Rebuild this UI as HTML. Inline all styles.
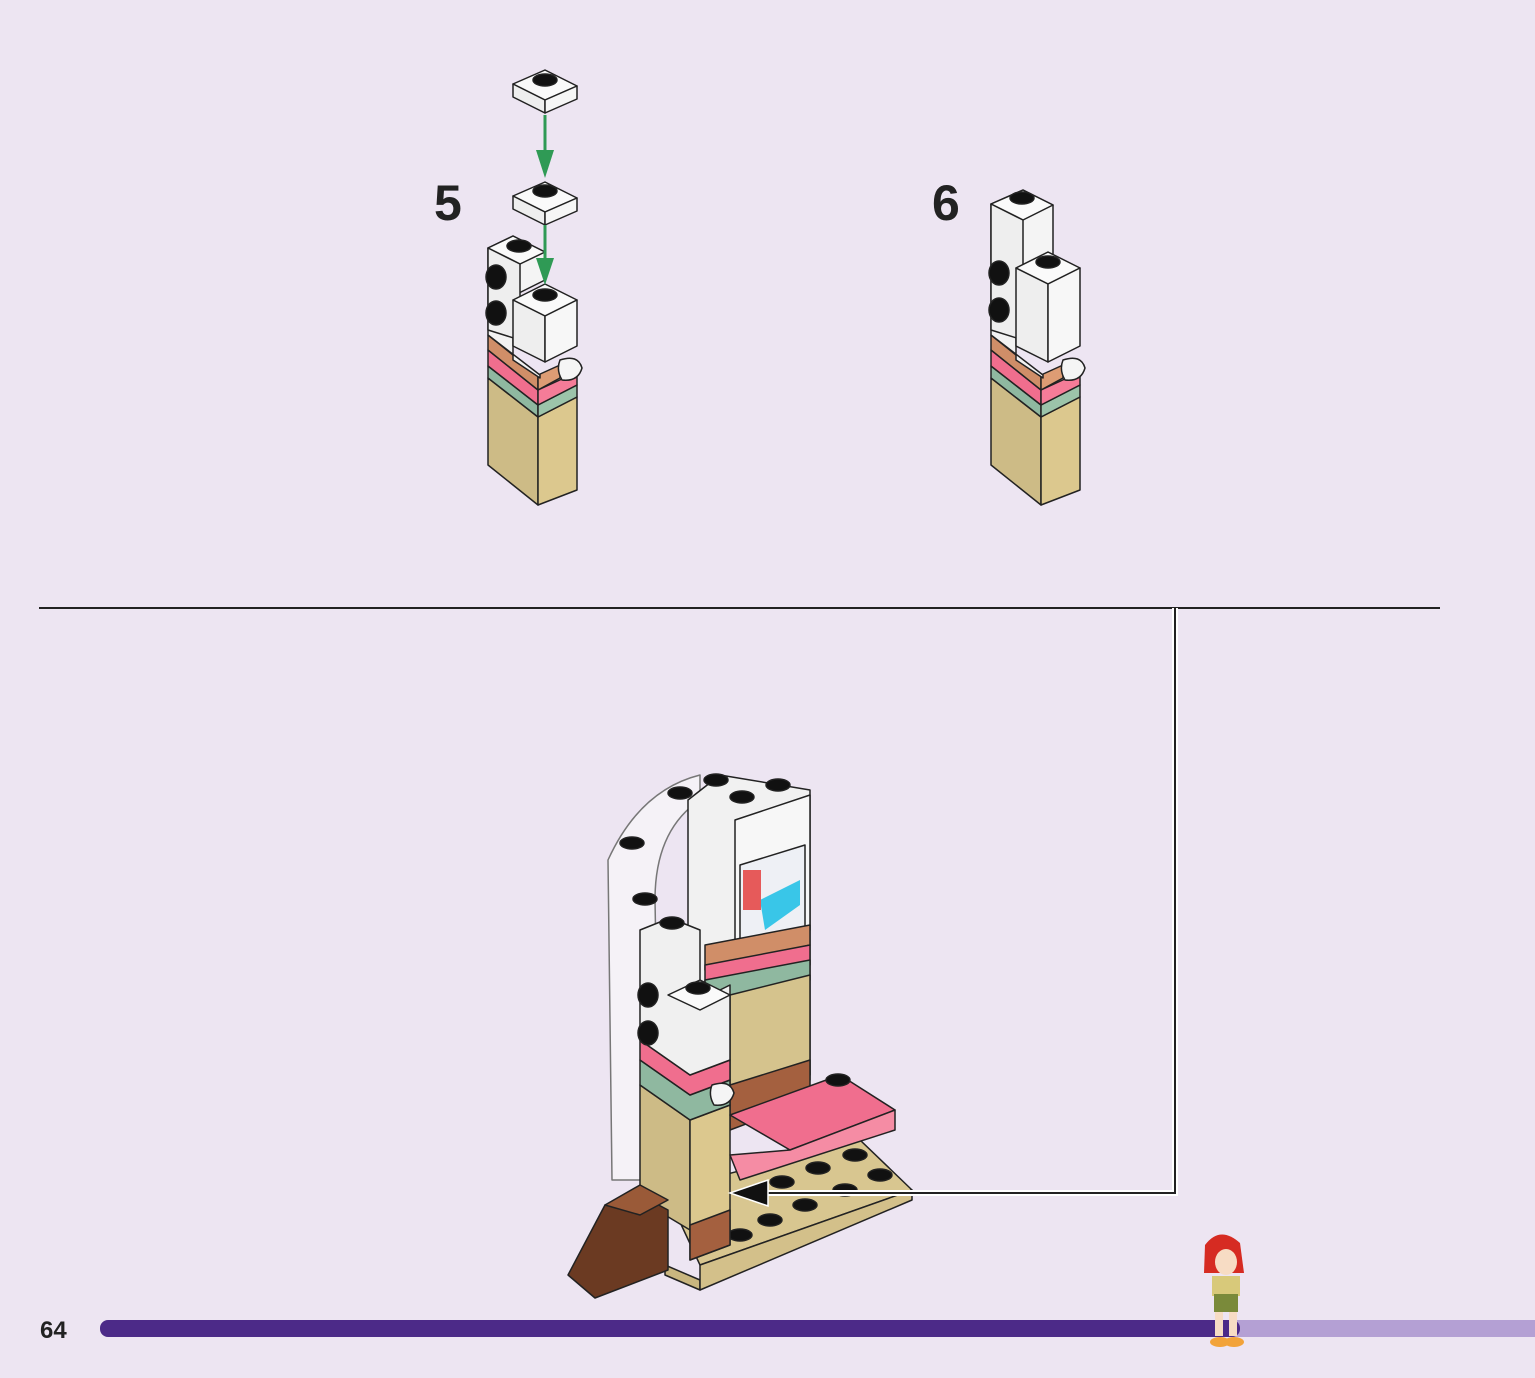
<!DOCTYPE html>
<html><head><style>
html,body{margin:0;padding:0;background:#ede5f2;}
svg{display:block}
</style></head><body>
<svg width="1535" height="1378" viewBox="0 0 1535 1378" xmlns="http://www.w3.org/2000/svg" font-family="Liberation Sans, sans-serif">
<rect width="1535" height="1378" fill="#ede5f2"/>
<defs>
<g id="pillar" stroke="#222" stroke-width="1.5" stroke-linejoin="round">
  <polygon points="488,378 538,417 538,505 488,465" fill="#cdbb86"/>
  <polygon points="538,417 577,397 577,490 538,505" fill="#dcc88e"/>
  <polygon points="488,366 538,405 538,417 488,378" fill="#8fb8a0"/>
  <polygon points="538,405 577,385 577,397 538,417" fill="#9cc4aa"/>
  <polygon points="488,350 538,390 538,405 488,366" fill="#f06e8e"/>
  <polygon points="538,390 577,372 577,385 538,405" fill="#f57c98"/>
  <polygon points="488,335 538,375 538,390 488,350" fill="#d08e68"/>
  <polygon points="538,375 560,365 560,378 538,390" fill="#dd9c74"/>
  <polygon points="488,270 513,290 513,360 540,378 540,375 488,335" fill="#f2f2f2"/>
</g>
</defs>

<g stroke="#222" stroke-width="1.5" stroke-linejoin="round">
  <use href="#pillar"/>
  <polygon points="488,248 513,236 545,252 545,280 513,296 488,280" fill="#f4f4f4"/>
  <polygon points="488,248 513,236 545,252 520,264" fill="#fafafa"/>
  <polygon points="488,248 520,264 520,340 488,330" fill="#eeeeee"/>
  <ellipse cx="519" cy="246" rx="12" ry="6" fill="#111"/>
  <ellipse cx="496" cy="277" rx="10" ry="12" fill="#111"/>
  <ellipse cx="496" cy="313" rx="10" ry="12" fill="#111"/>
  <polygon points="513,300 545,284 577,300 545,316" fill="#fafafa"/>
  <polygon points="513,300 545,316 545,362 513,346" fill="#eeeeee"/>
  <polygon points="545,316 577,300 577,346 545,362" fill="#f7f7f7"/>
  <ellipse cx="545" cy="295" rx="12" ry="6" fill="#111"/>
  <path d="M560,360 q18,-6 22,8 q-4,14 -20,12 q-6,-10 -2,-20z" fill="#f5f5f5"/>
  <polygon points="513,84 545,70 577,86 545,100" fill="#fafafa"/>
  <polygon points="513,84 545,100 545,113 513,97" fill="#eee"/>
  <polygon points="545,100 577,86 577,99 545,113" fill="#f6f6f6"/>
  <ellipse cx="545" cy="80" rx="12" ry="6" fill="#111"/>
  <polygon points="513,196 545,182 577,198 545,212" fill="#fafafa"/>
  <polygon points="513,196 545,212 545,225 513,209" fill="#eee"/>
  <polygon points="545,212 577,198 577,211 545,225" fill="#f6f6f6"/>
  <ellipse cx="545" cy="191" rx="12" ry="6" fill="#111"/>
</g>
<g stroke="#2f9a55" stroke-width="3" fill="#2f9a55">
  <line x1="545" y1="115" x2="545" y2="160"/><polygon points="536,150 554,150 545,178" stroke="none"/>
  <line x1="545" y1="225" x2="545" y2="265"/><polygon points="536,258 554,258 545,285" stroke="none"/>
</g>
<text x="434" y="220" font-size="50" font-weight="bold" fill="#222">5</text>

<g transform="translate(503,0)" stroke="#222" stroke-width="1.5" stroke-linejoin="round">
  <use href="#pillar"/>
  <polygon points="488,204 520,190 550,205 550,270 520,285 488,270" fill="#f4f4f4"/>
  <polygon points="488,204 520,190 550,205 520,220" fill="#fafafa"/>
  <polygon points="488,204 520,220 520,340 488,330" fill="#eeeeee"/>
  <ellipse cx="519" cy="198" rx="12" ry="6" fill="#111"/>
  <ellipse cx="496" cy="273" rx="10" ry="12" fill="#111"/>
  <ellipse cx="496" cy="310" rx="10" ry="12" fill="#111"/>
  <polygon points="513,268 545,252 577,268 545,284" fill="#fafafa"/>
  <polygon points="513,268 545,284 545,362 513,346" fill="#eeeeee"/>
  <polygon points="545,284 577,268 577,346 545,362" fill="#f7f7f7"/>
  <ellipse cx="545" cy="262" rx="12" ry="6" fill="#111"/>
  <path d="M560,360 q18,-6 22,8 q-4,14 -20,12 q-6,-10 -2,-20z" fill="#f5f5f5"/>
</g>
<text x="932" y="220" font-size="50" font-weight="bold" fill="#222">6</text>

<line x1="39" y1="608" x2="1440" y2="608" stroke="#222" stroke-width="2"/>

<g stroke="#222" stroke-width="1.5" stroke-linejoin="round">
  <polygon points="665,1190 860,1140 912,1190 700,1265" fill="#d8c690"/>
  <polygon points="665,1265 700,1280 700,1290 665,1275" fill="#c9b67f"/>
  <polygon points="700,1265 912,1190 912,1200 700,1290" fill="#d3c08a"/>
  <g fill="#111">
    <ellipse cx="770" cy="1220" rx="12" ry="6"/><ellipse cx="805" cy="1205" rx="12" ry="6"/>
    <ellipse cx="845" cy="1190" rx="12" ry="6"/><ellipse cx="880" cy="1175" rx="12" ry="6"/>
    <ellipse cx="740" cy="1235" rx="12" ry="6"/><ellipse cx="818" cy="1168" rx="12" ry="6"/>
    <ellipse cx="855" cy="1155" rx="12" ry="6"/><ellipse cx="782" cy="1182" rx="12" ry="6"/>
  </g>
  <path d="M612,1180 L608,860 Q640,790 700,775 L700,800 Q655,830 655,900 L660,1180z" fill="#f5f2f7" stroke="#777"/>
  <polygon points="688,800 720,775 810,790 810,1080 735,1100 688,1070" fill="#f1f1f1"/>
  <polygon points="735,820 810,795 810,930 735,955" fill="#f7f7f7"/>
  <polygon points="740,865 805,845 805,930 740,950" fill="#eef0f5"/>
  <polygon points="760,900 800,880 800,905 765,930" fill="#39c6e8" stroke="none"/>
  <rect x="743" y="870" width="18" height="40" fill="#e65a5a" stroke="none"/>
  <polygon points="705,945 810,925 810,945 705,970" fill="#d08e68"/>
  <polygon points="705,965 810,945 810,965 705,985" fill="#f06e8e"/>
  <polygon points="705,980 810,960 810,980 705,1000" fill="#8fb8a0"/>
  <polygon points="730,995 810,975 810,1075 730,1100" fill="#d5c38d"/>
  <polygon points="730,1085 810,1060 810,1100 730,1130" fill="#a4603f"/>
  <ellipse cx="716" cy="780" rx="12" ry="6" fill="#111"/><ellipse cx="778" cy="785" rx="12" ry="6" fill="#111"/>
  <ellipse cx="742" cy="797" rx="12" ry="6" fill="#111"/><ellipse cx="680" cy="793" rx="12" ry="6" fill="#111"/>
  <ellipse cx="632" cy="843" rx="12" ry="6" fill="#111"/><ellipse cx="645" cy="899" rx="12" ry="6" fill="#111"/>
  <polygon points="640,1085 690,1120 690,1230 640,1200" fill="#cdbb86"/>
  <polygon points="690,1120 730,1105 730,1245 690,1260" fill="#dcc88e"/>
  <polygon points="690,1225 730,1210 730,1245 690,1260" fill="#a4603f"/>
  <polygon points="640,1060 690,1095 730,1080 730,1105 690,1120 640,1085" fill="#8fb8a0"/>
  <polygon points="640,1040 690,1075 730,1060 730,1080 690,1095 640,1060" fill="#f06e8e"/>
  <polygon points="640,930 670,918 700,930 700,1000 730,985 730,1060 690,1075 640,1040" fill="#f0f0f0"/>
  <polygon points="668,995 700,980 730,995 700,1010" fill="#fafafa"/>
  <ellipse cx="672" cy="923" rx="12" ry="6" fill="#111"/><ellipse cx="698" cy="988" rx="12" ry="6" fill="#111"/>
  <ellipse cx="648" cy="995" rx="10" ry="12" fill="#111"/><ellipse cx="648" cy="1033" rx="10" ry="12" fill="#111"/>
  <path d="M712,1085 q18,-6 22,8 q-4,14 -20,12 q-6,-10 -2,-20z" fill="#f5f5f5"/>
  <polygon points="730,1115 840,1075 895,1110 790,1150" fill="#f06e8e"/>
  <polygon points="730,1155 790,1150 895,1110 895,1130 740,1180" fill="#f58ca4"/>
  <ellipse cx="838" cy="1080" rx="12" ry="6" fill="#111"/>
  <polygon points="568,1275 605,1205 640,1195 668,1210 668,1270 595,1298" fill="#6b3a22"/>
  <polygon points="605,1205 640,1185 668,1200 640,1215" fill="#9a5a38"/>
</g>
<polyline points="1175,608 1175,1193 750,1193" fill="none" stroke="#fff" stroke-width="6"/>
<polyline points="1175,608 1175,1193 750,1193" fill="none" stroke="#222" stroke-width="2"/>
<polygon points="730,1193 768,1180 768,1206" fill="#111" stroke="#fff" stroke-width="1.5"/>

<text x="40" y="1338" font-size="24" font-weight="bold" fill="#222">64</text>
<rect x="1220" y="1320" width="330" height="17" rx="8" fill="#b4a0d4"/>
<rect x="100" y="1320" width="1140" height="17" rx="8" fill="#4c2a88"/>
<g>
  <path d="M1205,1245 q15,-20 35,-2 l4,30 h-40z" fill="#d62b22"/>
  <ellipse cx="1226" cy="1262" rx="11" ry="13" fill="#f7dcc4"/>
  <rect x="1212" y="1276" width="28" height="20" fill="#d8c97a"/>
  <rect x="1214" y="1294" width="24" height="18" fill="#7a8a3a"/>
  <rect x="1215" y="1312" width="8" height="24" fill="#f7dcc4"/><rect x="1229" y="1312" width="8" height="24" fill="#f7dcc4"/>
  <ellipse cx="1220" cy="1342" rx="10" ry="5" fill="#f2a33a"/><ellipse cx="1234" cy="1342" rx="10" ry="5" fill="#f2a33a"/>
</g>
</svg>
</body></html>
